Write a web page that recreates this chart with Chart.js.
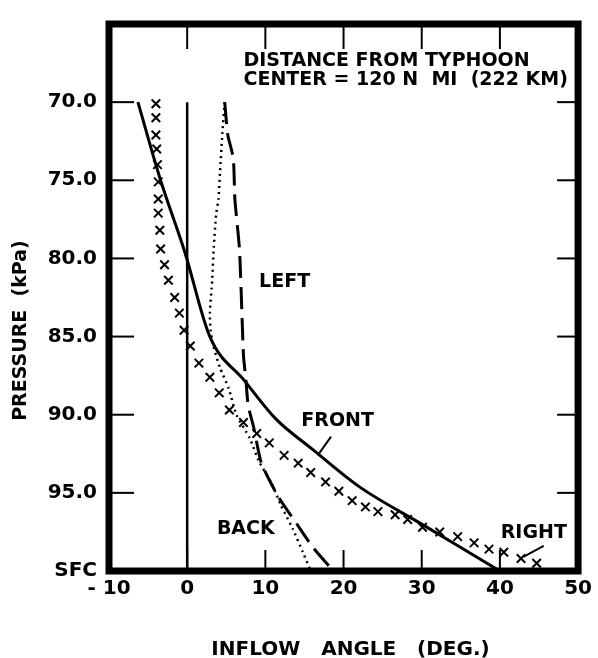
<!DOCTYPE html>
<html>
<head>
<meta charset="utf-8">
<script src="https://cdn.jsdelivr.net/npm/chart.js@4"></script>
<style>
  body { margin: 0; background: #fff; }
  #wrap { width: 598px; height: 658px; }
</style>
</head>
<body>
<div id="wrap"><canvas id="inflow"></canvas></div>
<script>
// values (angle in deg, pressure in kPa, SFC = 100)
const zeroAngle = [0, 0];
const zeroPressure = [70, 100];

const frontAngle = [-6.3, -3.4, -0.3, 2.9, 7.3, 11.4, 16.0, 22.0, 30.0, 40.0];
const frontPressure = [70, 75, 79.6, 85, 87.8, 90.3, 92.2, 94.6, 97.0, 100];

const rightAngle = [-4.0, -4.0, -4.0, -3.9, -3.8, -3.7, -3.7, -3.7, -3.5, -3.4, -2.9, -2.4, -1.6, -1.0, -0.4, 0.4, 1.5, 2.9, 4.1,
  5.4, 7.2, 8.9, 10.5, 12.4, 14.2, 15.8, 17.7, 19.4, 21.1, 22.8, 24.4, 26.6, 28.2, 30.1, 32.3, 34.6, 36.7, 38.6, 40.5, 42.7, 44.7];
const rightPressure = [70.1, 71.0, 72.1, 73.0, 74.0, 75.1, 76.2, 77.1, 78.2, 79.4, 80.4, 81.4, 82.5, 83.5, 84.6, 85.6, 86.7, 87.6, 88.6,
  89.7, 90.5, 91.2, 91.8, 92.6, 93.1, 93.7, 94.3, 94.9, 95.5, 95.9, 96.2, 96.4, 96.7, 97.2, 97.5, 97.8, 98.2, 98.6, 98.8, 99.2, 99.5];

const leftAngle = [4.8, 5.2, 5.9, 6.1, 6.7, 7.2, 7.5, 7.8, 8.5, 9.5, 11.6, 13.9, 16.1, 18.7];
const leftPressure = [70, 72.1, 73.6, 76.2, 79.5, 86.2, 87.7, 89.4, 90.8, 93.1, 95.2, 96.9, 98.5, 100];

const backAngle = [4.8, 4.5, 4.2, 4.0, 3.7, 3.4, 3.2, 2.9, 3.0, 3.4, 4.2, 5.3, 6.3, 8.0, 9.2, 10.8, 12.0, 13.5, 14.8, 15.8];
const backPressure = [70, 72, 74.5, 76.2, 77.2, 79.3, 81.4, 83.5, 84.6, 85.7, 87.0, 88.3, 90, 91.5, 93, 94.4, 95.8, 97.3, 98.8, 100];

const xTicks = [-10, 0, 10, 20, 30, 40, 50];
const yTicks = [70, 75, 80, 85, 90, 95, 100];

const pts = (xs, ys) => xs.map((v, i) => ({ x: v, y: ys[i] }));
const FONT = "'DejaVu Sans'";

// text notes, placed in data units
const notes = [
  { text: "DISTANCE FROM TYPHOON", x: 7.2, y: 67.4 },
  { text: "CENTER = 120 N  MI  (222 KM)", x: 7.2, y: 68.6 },
  { text: "LEFT", x: 9.2, y: 81.5 },
  { text: "FRONT", x: 14.6, y: 90.4 },
  { text: "BACK", x: 3.8, y: 97.3 },
  { text: "RIGHT", x: 40.1, y: 97.6 },
];
const leaders = [
  [18.4, 91.4, 16.7, 92.6],
  [45.6, 98.4, 43.0, 99.1],
];

const framePlugin = {
  id: "frame",
  afterDatasetsDraw(chart) {
    const { ctx, chartArea: a, scales: { x, y } } = chart;
    ctx.save();
    ctx.strokeStyle = "#000";
    ctx.lineCap = "butt";
    ctx.lineWidth = 2;
    let line = (x1, y1, x2, y2) => {
      ctx.beginPath();
      ctx.moveTo(x1, y1);
      ctx.lineTo(x2, y2);
      ctx.stroke();
    };
    // inward tick marks
    y.ticks.forEach((t) => {
      if (t.value <= 65 || t.value >= 100) return;
      const py = y.getPixelForValue(t.value);
      line(a.left, py, a.left + 25, py);
      line(a.right - 21, py, a.right, py);
    });
    x.ticks.forEach((t) => {
      if (t.value <= -10 || t.value >= 50) return;
      const px = x.getPixelForValue(t.value);
      line(px, a.top, px, a.top + 25);
      line(px, a.bottom - 21, px, a.bottom);
    });
    leaders.forEach((l) => {
      line(x.getPixelForValue(l[0]), y.getPixelForValue(l[1]), x.getPixelForValue(l[2]), y.getPixelForValue(l[3]));
    });
    // heavy frame
    ctx.lineWidth = 7;
    ctx.strokeRect(a.left, a.top, a.width, a.height);
    // notes
    ctx.fillStyle = "#000";
    ctx.font = "bold 19px " + FONT;
    ctx.textAlign = "left";
    ctx.textBaseline = "middle";
    notes.forEach((n) => {
      ctx.fillText(n.text, x.getPixelForValue(n.x), y.getPixelForValue(n.y));
    });
    ctx.restore();
  },
};

renderInflowChart();

function renderInflowChart() {
  let cv = document.querySelector("#inflow");
  new Chart(cv, {
    type: "scatter",
    data: {
      datasets: [
        {
          label: "zero",
          data: pts(zeroAngle, zeroPressure),
          showLine: true,
          borderColor: "#000",
          borderWidth: 2.5,
          pointRadius: 0,
        },
        {
          label: "FRONT",
          data: pts(frontAngle, frontPressure),
          showLine: true,
          borderColor: "#000",
          borderWidth: 3,
          pointRadius: 0,
          cubicInterpolationMode: "monotone",
        },
        {
          label: "LEFT",
          data: pts(leftAngle, leftPressure),
          showLine: true,
          borderColor: "#000",
          borderWidth: 3,
          borderDash: [22, 9],
          pointRadius: 0,
          tension: 0.2,
        },
        {
          label: "BACK",
          data: pts(backAngle, backPressure),
          showLine: true,
          borderColor: "#000",
          borderWidth: 2.5,
          borderDash: [2, 4],
          pointRadius: 0,
          tension: 0.2,
        },
        {
          label: "RIGHT",
          data: pts(rightAngle, rightPressure),
          showLine: false,
          pointStyle: "crossRot",
          pointRadius: 6,
          borderColor: "#000",
          borderWidth: 2,
        },
      ],
    },
    options: {
      responsive: true,
      maintainAspectRatio: false,
      animation: false,
      layout: { padding: { top: 18, right: 16, left: 0, bottom: 0 } },
      plugins: { legend: { display: false }, tooltip: { enabled: false } },
      scales: {
        x: {
          type: "linear",
          min: -10,
          max: 50,
          afterBuildTicks: (s) => { s.ticks = xTicks.map((v) => ({ value: v })); },
          afterFit: (s) => { s.height = 87; },
          grid: { display: false, drawTicks: false },
          border: { display: false },
          ticks: {
            color: "#000",
            padding: 6,
            font: { family: FONT, size: 20, weight: "bold" },
            callback: (v) => (v < 0 ? "- " + Math.abs(v) : String(v)),
          },
          title: {
            display: true,
            text: "  INFLOW   ANGLE   (DEG.)",
            color: "#000",
            padding: { top: 0, bottom: -4 },
            font: { family: FONT, size: 20, weight: "bold" },
          },
        },
        y: {
          type: "linear",
          reverse: true,
          min: 65,
          max: 100,
          afterBuildTicks: (s) => { s.ticks = yTicks.map((v) => ({ value: v })); },
          afterFit: (s) => { s.width = 109; },
          grid: { display: false, drawTicks: false },
          border: { display: false },
          ticks: {
            color: "#000",
            padding: 12,
            font: { family: FONT, size: 20, weight: "bold" },
            callback: (v) => (v >= 100 ? "SFC" : v.toFixed(1)),
          },
          title: {
            display: true,
            text: "PRESSURE  (kPa)          ",
            color: "#000",
            padding: { top: 10, bottom: 0 },
            font: { family: FONT, size: 19, weight: "bold" },
          },
        },
      },
    },
    plugins: [framePlugin],
  });
}
</script>
</body>
</html>
